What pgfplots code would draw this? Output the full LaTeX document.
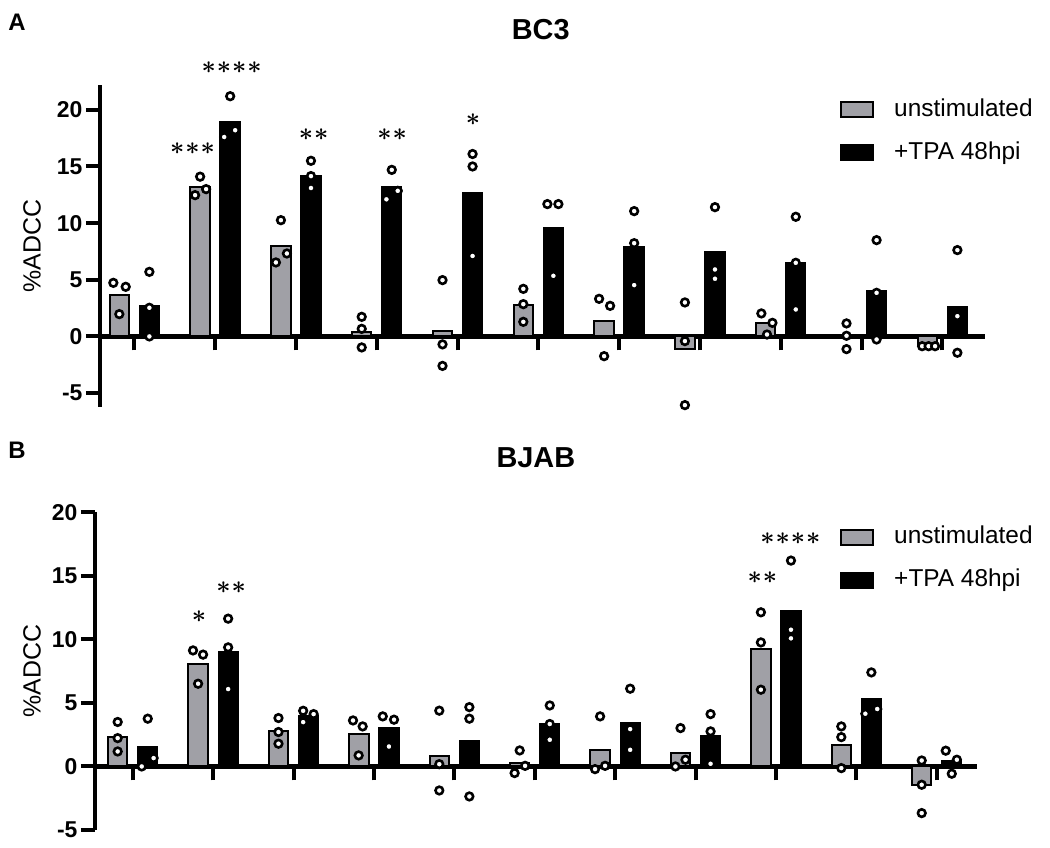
\documentclass[border=0pt]{standalone}
\usepackage{pgfplots}
\pgfplotsset{compat=1.18}
\usepackage{fontspec}
\setmainfont{Liberation Sans}
\definecolor{barGray}{RGB}{160,160,166}
\newcommand{\st}{$\ast$}
\newcommand{\stars}[1]{{\fontsize{30}{30}\selectfont\boldmath #1}}
\pgfplotsset{
  myaxis/.style={
    scale only axis,
    axis x line=middle, axis y line=left,
    axis line style={line width=4.2bp,-},
    every inner x axis line/.append style={line width=4.2bp},
    every outer y axis line/.append style={line width=4.2bp},
    xtick={0,...,10}, xticklabel=\empty,
    ytick={-5,0,5,10,15,20},
    tick style={line width=4bp, black},
    every tick/.append style={line width=4bp, black},
    xtick style={line width=4bp}, ytick style={line width=4bp},
    major tick length=14bp,
    tick align=outside,
    xtick align=outside, ytick align=outside,
    ticklabel style={font=\fontsize{23}{23}\selectfont\bfseries},
    /pgf/number format/assume math mode=true,
    clip=false,
    ylabel={\%ADCC},
    ylabel style={font=\fontsize{25}{25}\selectfont, anchor=center},
    title style={font=\fontsize{29}{29}\selectfont\bfseries, anchor=center},
    legend style={draw=none, fill=none, inner sep=0pt, anchor=north west,
      font=\fontsize{24.5}{24.5}\selectfont,
      nodes={inner sep=0pt, text height=18bp, text depth=5bp},
      column sep=20bp, row sep=20bp},
    legend cell align=left,
  },
  graybar/.style={ybar, bar width=0.24, bar shift=0pt, fill=barGray, draw=black, line width=2bp,
    legend image code/.code={\draw[fill=barGray,draw=black,line width=2bp] (0bp,-7.5bp) rectangle (32bp,7.5bp);}},
  blackbar/.style={ybar, bar width=0.24, bar shift=0pt, fill=black, draw=black, line width=2bp,
    legend image code/.code={\draw[fill=black,draw=black,line width=2bp] (0bp,-7.5bp) rectangle (32bp,7.5bp);}},
  pts/.style={only marks, mark=*, mark size=3.8bp, mark options={fill=white, draw=black, line width=2.6bp}, forget plot},
}
\begin{document}
\begin{tikzpicture}
\useasboundingbox (0bp,0bp) rectangle (1050bp,848bp);
\node[font=\fontsize{24}{24}\selectfont\bfseries] at (17bp,826bp) {A};
\node[font=\fontsize{24}{24}\selectfont\bfseries] at (17bp,397.5bp) {B};
% ---------------- Top panel: BC3
\begin{axis}[myaxis,
  at={(100bp,441.3bp)}, anchor=south west,
  width=885bp, height=321.7bp,
  xmin=-0.425, xmax=10.528, ymin=-6.2, ymax=22.19,
  ylabel style={at={(axis description cs:-0.0768,0.5)}},
  title={BC3}, title style={at={(axis description cs:0.498,1.1523)}},
  legend style={at={(axis description cs:0.8362,0.9596)}},
]
\addplot[graybar] coordinates {(-0.186,3.65) (0.814,13.2) (1.814,8.0) (2.814,0.35) (3.814,0.47) (4.814,2.76) (5.814,1.38) (6.814,-1.09) (7.814,1.15) (8.814,0.03) (9.814,-0.8)};
\addlegendentry{unstimulated}
\addplot[blackbar] coordinates {(0.186,2.67) (1.186,18.94) (2.186,14.2) (3.186,13.2) (4.186,12.7) (5.186,9.59) (6.186,7.91) (7.186,7.47) (8.186,6.44) (9.186,4.0) (10.186,2.61)};
\addlegendentry{+TPA 48hpi}
\addplot[pts] coordinates {
(-0.26,4.73) (-0.107,4.38) (-0.186,1.97)
(0.814,14.1) (0.888,13.0) (0.752,12.47)
(1.814,10.26) (1.888,7.32) (1.752,6.53)
(2.814,1.73) (2.814,0.67) (2.814,-0.97)
(3.814,4.97) (3.814,-0.7) (3.814,-2.6)
(4.814,4.2) (4.814,2.85) (4.814,1.29)
(5.752,3.32) (5.888,2.7) (5.814,-1.74)
(6.814,3.0) (6.814,-0.41) (6.814,-6.06)
(7.76,2.03) (7.897,1.2) (7.83,0.17)
(8.814,1.15) (8.814,0.06) (8.814,-1.12)
(9.75,-0.86) (9.83,-0.86) (9.91,-0.86)};
\addplot[pts] coordinates {
(0.186,5.7) (0.186,2.53) (0.186,0.0)
(1.186,21.2) (1.248,18.2) (1.112,17.6)
(2.186,15.5) (2.186,14.15) (2.186,13.1)
(3.186,14.7) (3.26,12.85) (3.12,12.1)
(4.186,16.1) (4.186,15.0) (4.186,7.1)
(5.112,11.68) (5.248,11.68) (5.186,5.35)
(6.186,11.06) (6.186,8.23) (6.186,4.53)
(7.186,11.41) (7.186,5.91) (7.186,5.09)
(8.186,10.56) (8.186,6.5) (8.186,2.38)
(9.186,8.5) (9.186,3.85) (9.186,-0.27)
(10.186,7.62) (10.186,1.79) (10.186,-1.44)};
\node at (axis cs:0.72,16.6) {\stars{\st\kern1bp\st\kern1bp\st}};
\node at (axis cs:1.205,23.74) {\stars{\st\kern1bp\st\kern1bp\st\kern1bp\st}};
\node at (axis cs:2.22,17.8) {\stars{\st\kern1bp\st}};
\node at (axis cs:3.19,17.8) {\stars{\st\kern1bp\st}};
\node at (axis cs:4.19,19.15) {\stars{\st}};
\end{axis}
% ---------------- Bottom panel: BJAB
\begin{axis}[myaxis,
  at={(95bp,18bp)}, anchor=south west,
  width=881.7bp, height=317.7bp,
  xmin=-0.469, xmax=10.497, ymin=-5, ymax=20,
  ylabel style={at={(axis description cs:-0.0715,0.5)}},
  title={BJAB}, title style={at={(axis description cs:0.5,1.1536)}},
  legend style={at={(axis description cs:0.845,0.959)}},
]
\addplot[graybar] coordinates {(-0.187,2.29) (0.813,8.06) (1.813,2.76) (2.813,2.55) (3.813,0.84) (4.813,0.25) (5.813,1.26) (6.813,1.05) (7.813,9.24) (8.813,1.71) (9.813,-1.44)};
\addlegendentry{unstimulated}
\addplot[blackbar] coordinates {(0.187,1.5) (1.187,9.0) (2.187,4.0) (3.187,3.02) (4.187,1.97) (5.187,3.34) (6.187,3.41) (7.187,2.36) (8.187,12.26) (9.187,5.33) (10.187,0.4)};
\addlegendentry{+TPA 48hpi}
\addplot[pts] coordinates {
(-0.187,3.5) (-0.187,2.23) (-0.187,1.18)
(0.75,9.13) (0.875,8.8) (0.813,6.51)
(1.813,3.81) (1.813,2.71) (1.813,1.79)
(2.74,3.62) (2.86,3.15) (2.81,0.87)
(3.813,4.39) (3.813,0.18) (3.813,-1.89)
(4.813,1.26) (4.88,0.05) (4.75,-0.52)
(5.813,3.94) (5.875,0.05) (5.75,-0.21)
(6.813,3.02) (6.875,0.53) (6.75,0.0)
(7.813,12.13) (7.813,9.76) (7.813,6.04)
(8.813,3.15) (8.813,2.31) (8.813,-0.13)
(9.813,0.47) (9.813,-1.44) (9.813,-3.67)};
\addplot[pts] coordinates {
(0.187,3.76) (0.112,0.0) (0.26,0.66)
(1.187,11.63) (1.187,9.37) (1.187,6.09)
(2.12,4.38) (2.25,4.12) (2.12,3.49)
(3.11,3.94) (3.25,3.68) (3.187,1.57)
(4.187,4.67) (4.187,3.76) (4.187,-2.36)
(5.187,4.8) (5.187,3.34) (5.187,2.1)
(6.187,6.12) (6.187,2.94) (6.187,1.31)
(7.187,4.12) (7.187,2.76) (7.187,0.21)
(8.187,16.2) (8.187,10.76) (8.187,10.08)
(9.187,7.4) (9.112,4.15) (9.26,4.52)
(10.112,1.24) (10.25,0.53) (10.187,-0.57)};
\node at (axis cs:0.825,11.8) {\stars{\st}};
\node at (axis cs:1.225,14.1) {\stars{\st\kern1bp\st}};
\node at (axis cs:7.83,14.83) {\stars{\st\kern1bp\st}};
\node at (axis cs:8.18,17.9) {\stars{\st\kern1bp\st\kern1bp\st\kern1bp\st}};
\end{axis}
\end{tikzpicture}
\end{document}
